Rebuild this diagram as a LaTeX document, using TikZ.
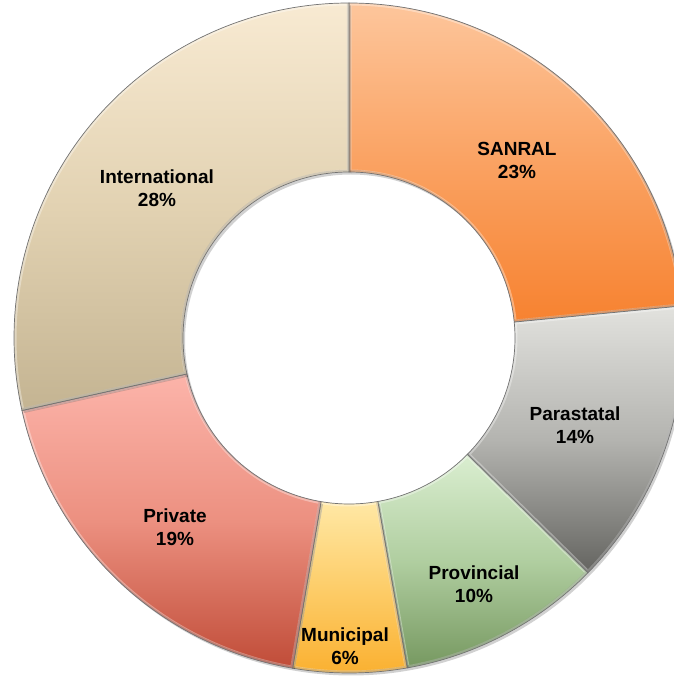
\documentclass[tikz,border=0pt]{standalone}
\usepackage{fontspec}
\setmainfont{Liberation Sans}
\begin{document}
\begin{tikzpicture}[x=1pt,y=1pt,
  lbl/.style={font=\bfseries\fontsize{19}{23}\selectfont, align=center, text=black},
  segline/.style={draw=black!55, line width=0.7pt}]
\useasboundingbox (0,0) rectangle (673,678);
\def\Ro{335}
\def\Ri{166}
% segment macro: #1 start angle, #2 end angle
\newcommand{\segpath}[2]{(#1:\Ro) arc[start angle=#1, end angle=#2, radius=\Ro] -- (#2:\Ri) arc[start angle=#2, end angle=#1, radius=\Ri] -- cycle}
\newcommand{\seg}[6]{%
  \begin{scope}[shift={(349,340)}]
    \fill[black, opacity=0.18, shift={(2,-2.5)}] \segpath{#1}{#2};
    \path[top color=#3, bottom color=#4, middle color=#5] \segpath{#1}{#2};
    \begin{scope}
      \clip \segpath{#1}{#2};
      \draw[white, opacity=0.35, line width=5pt] \segpath{#1}{#2};
      \draw[black, opacity=0.12, line width=2.5pt, shift={(-1,1)}] \segpath{#1}{#2};
    \end{scope}
    \draw[segline] \segpath{#1}{#2};
    \coordinate (#6) at (0,0);
  \end{scope}}
\definecolor{sanT}{RGB}{253,198,156}\definecolor{sanM}{RGB}{250,162,98}\definecolor{sanB}{RGB}{247,130,48}
\definecolor{parT}{RGB}{226,226,222}\definecolor{parM}{RGB}{180,180,176}\definecolor{parB}{RGB}{100,100,96}
\definecolor{proT}{RGB}{218,238,208}\definecolor{proM}{RGB}{176,206,160}\definecolor{proB}{RGB}{118,152,96}
\definecolor{munT}{RGB}{255,232,165}\definecolor{munM}{RGB}{253,205,105}\definecolor{munB}{RGB}{250,176,48}
\definecolor{priT}{RGB}{252,180,170}\definecolor{priM}{RGB}{236,144,128}\definecolor{priB}{RGB}{192,76,56}
\definecolor{intT}{RGB}{248,234,210}\definecolor{intM}{RGB}{226,210,178}\definecolor{intB}{RGB}{196,180,146}
\seg{90}{5.5}{sanT}{sanB}{sanM}{cS}
\seg{5.5}{-44.5}{parT}{parB}{parM}{cP}
\seg{-44.5}{-80}{proT}{proB}{proM}{cV}
\seg{-80}{-99.7}{munT}{munB}{munM}{cM}
\seg{-99.7}{-167.5}{priT}{priB}{priM}{cR}
\seg{-167.5}{-270}{intT}{intB}{intM}{cI}
\node[lbl] (lS) at (517,518) {SANRAL\\23\%};
\node[lbl] (lP) at (575,253) {Parastatal\\14\%};
\node[lbl] (lV) at (474,94) {Provincial\\10\%};
\node[lbl] (lM) at (345,32) {Municipal\\6\%};
\node[lbl] (lR) at (175,151) {Private\\19\%};
\node[lbl] (lI) at (157,490) {International\\28\%};
\end{tikzpicture}
\end{document}
